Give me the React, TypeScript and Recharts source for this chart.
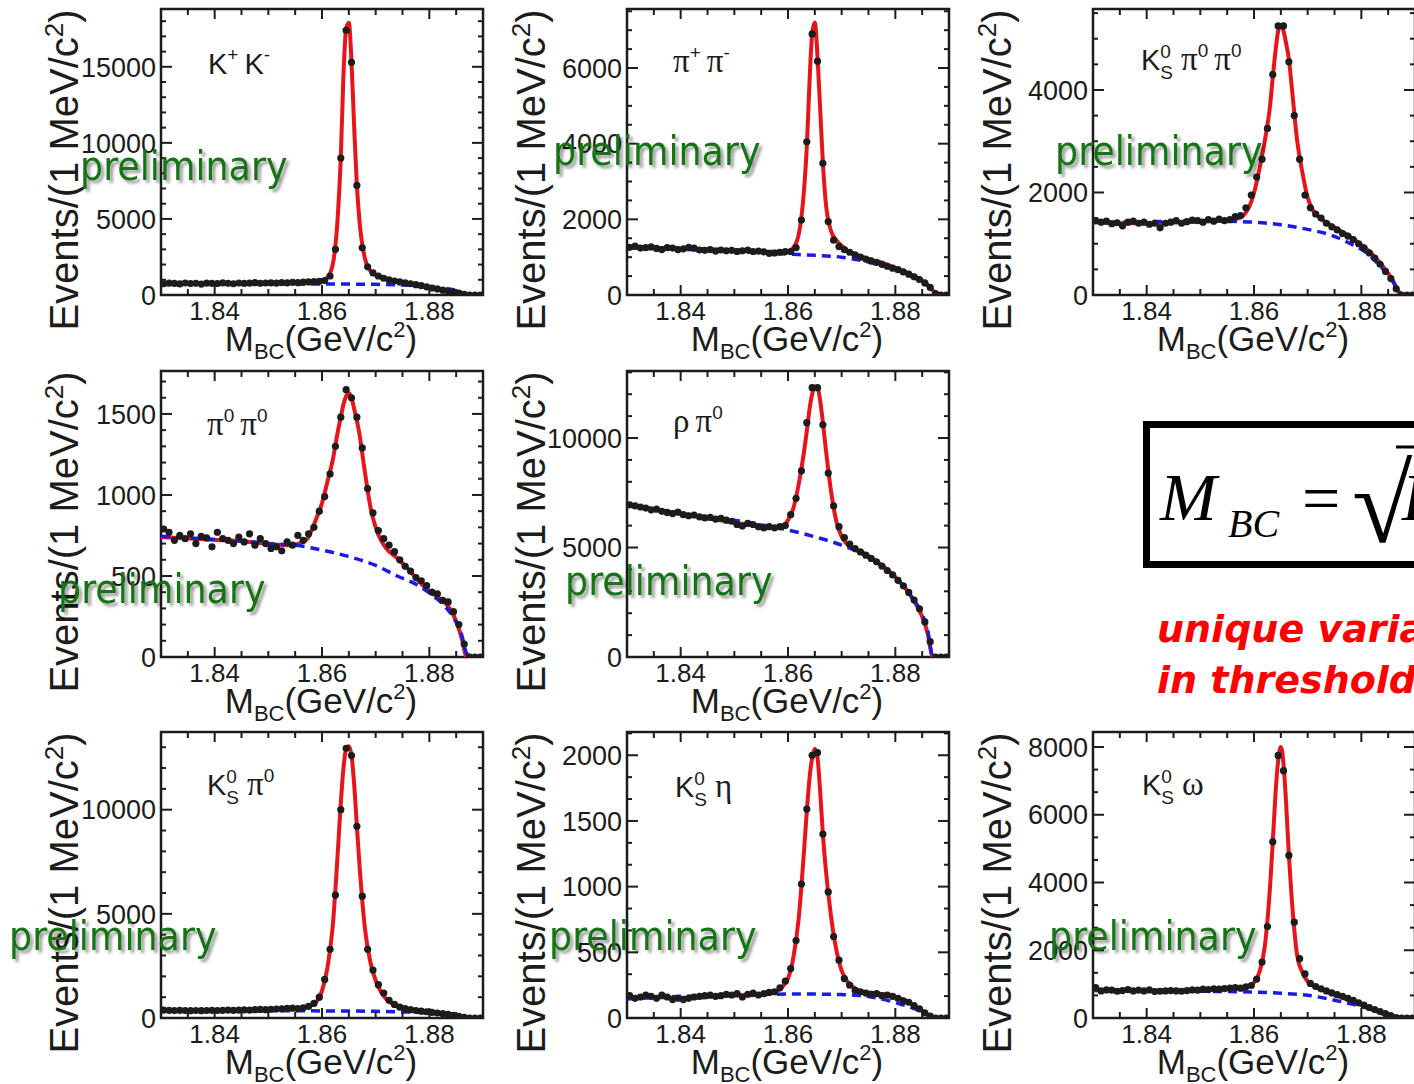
import { ComposedChart, Line, Scatter, XAxis, YAxis, ReferenceArea } from 'recharts'

const SANS = "'Liberation Sans', Arial, Helvetica, sans-serif"
const SERIF = "'Liberation Serif', 'Times New Roman', serif"
const PRELIM_FONT = "'DejaVu Sans Condensed', 'DejaVu Sans', sans-serif"
const INK = '#1c1c1c'
const RED = '#e8141c'
const BLUE = '#1a1ae8'
const GREEN = '#137313'

// plot frame geometry (px)
const PLOT_W = 322
const PLOT_H = 286
const PAD_L = 161
const PAD_T = 9
const CHART_W = PAD_L + PLOT_W + 12
const CHART_H = PAD_T + PLOT_H + 40

// x axis: M_BC in GeV/c^2
const X_DOMAIN = [1.83, 1.89]
const X_TICKS = [1.83, 1.835, 1.84, 1.845, 1.85, 1.855, 1.86, 1.865, 1.87, 1.875, 1.88, 1.885, 1.89]
const X_LABELS = [1.84, 1.86, 1.88]

// 1 MeV bin centres of the data points
const MASS = [
  1.8305, 1.8315, 1.8325, 1.8335, 1.8345, 1.8355, 1.8365, 1.8375, 1.8385, 1.8395,
  1.8405, 1.8415, 1.8425, 1.8435, 1.8445, 1.8455, 1.8465, 1.8475, 1.8485, 1.8495,
  1.8505, 1.8515, 1.8525, 1.8535, 1.8545, 1.8555, 1.8565, 1.8575, 1.8585, 1.8595,
  1.8605, 1.8615, 1.8625, 1.8635, 1.8645, 1.8655, 1.8665, 1.8675, 1.8685, 1.8695,
  1.8705, 1.8715, 1.8725, 1.8735, 1.8745, 1.8755, 1.8765, 1.8775, 1.8785, 1.8795,
  1.8805, 1.8815, 1.8825, 1.8835, 1.8845, 1.8855, 1.8865, 1.8875, 1.8885, 1.8895,
]

// sample positions of the total fit (red) and background (blue dashed)
const FIT_X = [
  1.83, 1.833, 1.836, 1.839, 1.842, 1.845, 1.848, 1.851, 1.854, 1.857,
  1.859, 1.86, 1.861, 1.862, 1.863, 1.8635, 1.864, 1.8645, 1.865, 1.8655,
  1.866, 1.8665, 1.867, 1.868, 1.869, 1.87, 1.871, 1.872, 1.874, 1.876,
  1.878, 1.88, 1.882, 1.884, 1.885, 1.886, 1.887, 1.888, 1.89,
]
const BKG_X = [1.83, 1.835, 1.84, 1.845, 1.85, 1.855, 1.86, 1.865, 1.87, 1.874, 1.878, 1.881, 1.883, 1.885, 1.886, 1.887, 1.888, 1.89]

// K+ K-
const PTS_KK = [
  740, 780, 760, 730, 790, 750, 770, 720, 780, 760, 750, 800, 770, 740, 790, 760, 780, 810, 770, 790,
  800, 780, 820, 800, 830, 810, 840, 860, 880, 900, 950, 1250, 3000, 9000, 17400, 15300, 7200, 3100, 1850, 1450,
  1250, 1100, 1000, 920, 860, 800, 740, 680, 610, 540, 460, 390, 320, 250, 190, 120, 40, 0, 0, 0,
]
const FIT_KK = [
  760, 765, 770, 775, 780, 790, 800, 810, 830, 860, 900, 960, 1150, 2000, 5500, 9000, 14500, 17500, 17900, 15300,
  11000, 7200, 4800, 2400, 1600, 1300, 1150, 1050, 900, 790, 660, 520, 380, 230, 150, 60, 0, 0, 0,
]
const BKG_KK = [700, 705, 710, 715, 720, 720, 720, 715, 700, 670, 600, 510, 420, 300, 130, 0, 0, 0]

// pi+ pi-
const PTS_PIPI = [
  1260, 1290, 1240, 1250, 1270, 1230, 1200, 1250, 1240, 1200, 1220, 1260, 1240, 1190, 1180, 1200, 1160, 1190, 1170, 1180,
  1150, 1170, 1190, 1150, 1160, 1140, 1100, 1110, 1130, 1150, 1150, 1250, 1980, 4050, 6900, 6180, 3480, 1940, 1450, 1280,
  1200, 1130, 1060, 1000, 950, 900, 860, 810, 760, 710, 670, 610, 550, 480, 410, 320, 200, 40, 0, 0,
]
const FIT_PIPI = [
  1260, 1250, 1240, 1230, 1220, 1210, 1195, 1180, 1160, 1140, 1140, 1160, 1250, 1600, 2800, 3900, 5600, 6900, 7200, 6300,
  4900, 3500, 2500, 1700, 1450, 1300, 1180, 1110, 1000, 910, 830, 720, 600, 460, 380, 270, 120, 0, 0,
]
const BKG_PIPI = [1250, 1225, 1205, 1180, 1150, 1115, 1080, 1050, 1000, 900, 760, 620, 500, 340, 250, 110, 0, 0]

// KS pi0 pi0
const PTS_KSPP = [
  1450, 1420, 1440, 1390, 1410, 1350, 1420, 1440, 1400, 1420, 1380, 1400, 1310, 1400, 1420, 1450, 1400, 1430, 1460, 1450,
  1420, 1470, 1440, 1480, 1450, 1470, 1530, 1550, 1700, 1950, 2300, 2650, 3250, 4300, 5250, 5250, 4550, 3500, 2650, 1950,
  1700, 1580, 1500, 1400, 1330, 1270, 1200, 1150, 1080, 1000, 920, 820, 720, 600, 460, 320, 120, 0, 0, 0,
]
const FIT_KSPP = [
  1420, 1410, 1400, 1400, 1405, 1415, 1425, 1440, 1460, 1490, 1700, 1990, 2450, 3000, 3700, 4250, 4750, 5150, 5270, 5150,
  4900, 4600, 4100, 3050, 2400, 1900, 1650, 1530, 1380, 1260, 1130, 980, 800, 560, 420, 260, 60, 0, 0,
]
const BKG_KSPP = [1420, 1420, 1430, 1440, 1450, 1440, 1420, 1370, 1280, 1180, 1000, 820, 620, 380, 240, 50, 0, 0]

// pi0 pi0
const PTS_P0P0 = [
  790, 770, 720, 750, 730, 760, 700, 745, 735, 680, 770, 730, 720, 700, 740, 710, 760, 690, 730, 700,
  670, 680, 655, 710, 690, 750, 720, 760, 800, 900, 990, 1130, 1300, 1480, 1650, 1600, 1480, 1290, 1040, 890,
  780, 730, 690, 650, 600, 560, 530, 490, 470, 440, 400, 390, 350, 340, 280, 200, 80, 0, 0, 0,
]
const FIT_P0P0 = [
  740, 735, 730, 725, 720, 715, 705, 695, 690, 720, 860, 950, 1080, 1215, 1400, 1480, 1560, 1610, 1630, 1600,
  1530, 1460, 1370, 1140, 930, 800, 720, 670, 610, 545, 470, 405, 360, 290, 220, 120, 0, 0, 0,
]
const BKG_P0P0 = [745, 735, 725, 715, 700, 690, 660, 620, 565, 500, 440, 370, 310, 215, 140, 20, 0, 0]

// rho pi0
const PTS_RHOP = [
  6950, 6900, 6850, 6800, 6720, 6750, 6650, 6600, 6550, 6620, 6500, 6450, 6480, 6400, 6350, 6380, 6300, 6330, 6250, 6200,
  6050, 5980, 6100, 6050, 5950, 5900, 5950, 5900, 5950, 6000, 6500, 7250, 8500, 10700, 12300, 12300, 10600, 8400, 6900, 5950,
  5450, 5150, 4950, 4800, 4650, 4500, 4350, 4150, 3950, 3750, 3500, 3250, 2950, 2600, 2200, 1600, 700, 0, 0, 0,
]
const FIT_RHOP = [
  6950, 6830, 6700, 6580, 6460, 6340, 6220, 6100, 5990, 5930, 5980, 6250, 6800, 7900, 9400, 10300, 11300, 12000, 12350, 12300,
  11700, 10700, 9600, 7600, 6200, 5500, 5150, 4950, 4750, 4450, 4100, 3650, 3100, 2350, 1850, 1100, 0, 0, 0,
]
const BKG_RHOP = [6940, 6750, 6560, 6400, 6250, 6030, 5800, 5490, 5110, 4700, 4050, 3380, 2750, 1950, 1250, 0, 0, 0]

// KS pi0
const PTS_KSP = [
  380, 370, 360, 370, 360, 350, 360, 350, 360, 370, 360, 370, 380, 370, 380, 390, 380, 400, 410, 400,
  420, 430, 440, 460, 470, 450, 490, 560, 700, 1000, 1850, 3300, 5900, 10000, 12950, 12600, 9200, 5850, 3300, 2300,
  1600, 1200, 850, 650, 520, 450, 400, 360, 330, 300, 270, 240, 210, 170, 130, 80, 30, 0, 0, 0,
]
const FIT_KSP = [
  370, 365, 365, 370, 375, 385, 395, 410, 430, 510, 800, 1300, 2400, 4400, 8200, 10300, 12000, 12900, 13050, 12600,
  11200, 9200, 7300, 4300, 2700, 1800, 1250, 900, 560, 430, 360, 300, 240, 160, 110, 50, 0, 0, 0,
]
const BKG_KSP = [350, 350, 350, 350, 345, 345, 340, 335, 320, 300, 270, 230, 190, 120, 60, 0, 0, 0]

// KS eta
const PTS_KSETA = [
  170, 150, 160, 175, 165, 150, 175, 160, 140, 150, 140, 150, 160, 165, 170, 175, 165, 170, 180, 175,
  185, 160, 180, 190, 175, 185, 195, 200, 230, 280, 376, 590, 1020, 1590, 2000, 2020, 1400, 960, 620, 440,
  300, 250, 210, 200, 190, 180, 185, 170, 175, 165, 150, 130, 120, 95, 70, 40, 15, 0, 0, 0,
]
const FIT_KSETA = [
  160, 160, 158, 155, 155, 160, 168, 172, 175, 190, 240, 300, 460, 760, 1280, 1570, 1820, 1980, 2050, 1980,
  1720, 1400, 1150, 780, 520, 360, 280, 240, 200, 190, 180, 160, 130, 80, 55, 25, 0, 0, 0,
]
const BKG_KSETA = [145, 155, 165, 170, 175, 180, 182, 182, 178, 168, 140, 105, 80, 45, 25, 0, 0, 0]

// KS omega
const PTS_KSOM = [
  900, 800, 830, 820, 790, 810, 840, 800, 820, 800, 830, 780, 790, 800, 810, 800, 790, 810, 830, 820,
  850, 840, 860, 850, 870, 880, 900, 880, 920, 960, 1150, 1650, 2700, 5200, 7750, 7300, 4800, 2830, 1750, 1300,
  1020, 930, 860, 800, 740, 690, 640, 580, 520, 450, 380, 310, 250, 190, 130, 70, 10, 0, 0, 0,
]
const FIT_KSOM = [
  830, 820, 815, 815, 815, 820, 830, 845, 860, 890, 950, 1050, 1350, 2100, 3900, 5200, 6600, 7600, 8000, 7500,
  6300, 4800, 3600, 1900, 1350, 1080, 950, 870, 750, 630, 510, 380, 250, 120, 60, 15, 0, 0, 0,
]
const BKG_KSOM = [815, 805, 800, 795, 790, 780, 765, 730, 670, 560, 420, 300, 200, 90, 30, 0, 0, 0]

// labelled y ticks of each panel
const Y_KK = [0, 5000, 10000, 15000]
const Y_PIPI = [0, 2000, 4000, 6000]
const Y_KSPP = [0, 2000, 4000]
const Y_P0P0 = [0, 500, 1000, 1500]
const Y_RHOP = [0, 5000, 10000]
const Y_KSP = [0, 5000, 10000]
const Y_KSETA = [0, 500, 1000, 1500, 2000]
const Y_KSOM = [0, 2000, 4000, 6000, 8000]

const PANELS = [
  { key: 'kk', left: 161, top: 9, col: 0, yMax: 18800, majors: Y_KK, sub: 5, points: PTS_KK, fit: FIT_KK, bkg: BKG_KK, prelim: [80, 180] },
  { key: 'pipi', left: 627, top: 9, col: 1, yMax: 7560, majors: Y_PIPI, sub: 4, points: PTS_PIPI, fit: FIT_PIPI, bkg: BKG_PIPI, prelim: [553, 165] },
  { key: 'kspp', left: 1093, top: 9, col: 2, yMax: 5580, majors: Y_KSPP, sub: 4, points: PTS_KSPP, fit: FIT_KSPP, bkg: BKG_KSPP, prelim: [1055, 165] },
  { key: 'p0p0', left: 161, top: 371, col: 0, yMax: 1765, majors: Y_P0P0, sub: 5, points: PTS_P0P0, fit: FIT_P0P0, bkg: BKG_P0P0, prelim: [58, 603] },
  { key: 'rhop', left: 627, top: 371, col: 1, yMax: 13060, majors: Y_RHOP, sub: 5, points: PTS_RHOP, fit: FIT_RHOP, bkg: BKG_RHOP, prelim: [565, 595] },
  { key: 'ksp', left: 161, top: 732, col: 0, yMax: 13730, majors: Y_KSP, sub: 5, points: PTS_KSP, fit: FIT_KSP, bkg: BKG_KSP, prelim: [9, 950] },
  { key: 'kseta', left: 627, top: 732, col: 1, yMax: 2177, majors: Y_KSETA, sub: 3, points: PTS_KSETA, fit: FIT_KSETA, bkg: BKG_KSETA, prelim: [549, 950] },
  { key: 'ksom', left: 1093, top: 732, col: 2, yMax: 8443, majors: Y_KSOM, sub: 3, points: PTS_KSOM, fit: FIT_KSOM, bkg: BKG_KSOM, prelim: [1049, 950] },
]

const TITLE_X = [78, 545, 1011]

const pairs = (xs: number[], ys: number[]) => xs.map((x, i) => ({ x, y: ys[i] }))

function yTicks(yMax: number, majors: number[], sub: number) {
  const step = (majors[1] - majors[0]) / sub
  const out: number[] = []
  for (let k = 0; k * step <= yMax; k++) out.push(k * step)
  return out
}

const dot = (props: any) =>
  props.cx == null ? <g /> : <circle cx={props.cx} cy={props.cy} r={3.6} fill={INK} />

function xTick(props: any) {
  const { x, y, payload } = props
  const v = payload.value
  const major = X_LABELS.some((l) => Math.abs(l - v) < 1e-6)
  const len = major ? 10 : 6
  return (
    <g>
      <line x1={x} x2={x} y1={y} y2={y - len} stroke={INK} strokeWidth={2} />
      <line x1={x} x2={x} y1={y - PLOT_H} y2={y - PLOT_H + len} stroke={INK} strokeWidth={2} />
      {major && (
        <text x={x} y={y + 25} textAnchor="middle" fontFamily={SANS} fontSize={26} fill={INK}>
          {v.toFixed(2)}
        </text>
      )}
    </g>
  )
}

function Panel({ p }: { p: any }) {
  const ticks = yTicks(p.yMax, p.majors, p.sub)
  const isMajor = (v: number) => p.majors.some((m: number) => Math.abs(m - v) < 1e-3)

  const yTick = (props: any) => {
    const { x, y, payload } = props
    const v = payload.value
    const major = isMajor(v)
    const len = major ? 11 : 5
    return (
      <g>
        <line x1={x} x2={x + len} y1={y} y2={y} stroke={INK} strokeWidth={2} />
        <line x1={x + PLOT_W} x2={x + PLOT_W - len} y1={y} y2={y} stroke={INK} strokeWidth={2} />
        {major && (
          <text x={x - 5} y={y} dy="0.36em" textAnchor="end" fontFamily={SANS} fontSize={27} fill={INK}>
            {Math.round(v)}
          </text>
        )}
      </g>
    )
  }

  return (
    <div style={{ position: 'absolute', left: p.left - PAD_L, top: p.top - PAD_T }}>
      <ComposedChart width={CHART_W} height={CHART_H} margin={{ top: PAD_T, right: 12, bottom: 0, left: 0 }}>
        <XAxis
          xAxisId="b"
          type="number"
          dataKey="x"
          domain={X_DOMAIN}
          ticks={X_TICKS}
          interval={0}
          allowDataOverflow
          height={40}
          axisLine={false}
          tickLine={false}
          tickSize={0}
          tickMargin={0}
          tick={xTick}
        />
        <YAxis
          yAxisId="l"
          type="number"
          dataKey="y"
          domain={[0, p.yMax]}
          ticks={ticks}
          interval={0}
          allowDataOverflow
          width={PAD_L}
          axisLine={false}
          tickLine={false}
          tickSize={0}
          tickMargin={0}
          tick={yTick}
        />
        <ReferenceArea
          xAxisId="b"
          yAxisId="l"
          x1={1.83}
          x2={1.89}
          y1={0}
          y2={p.yMax}
          fill="none"
          stroke={INK}
          strokeWidth={2.5}
          ifOverflow="visible"
        />
        <Scatter xAxisId="b" yAxisId="l" data={pairs(MASS, p.points)} dataKey="y" shape={dot} isAnimationActive={false} />
        <Line
          xAxisId="b"
          yAxisId="l"
          data={pairs(FIT_X, p.fit)}
          dataKey="y"
          type="monotone"
          stroke={RED}
          strokeWidth={4}
          dot={false}
          activeDot={false}
          isAnimationActive={false}
        />
        <Line
          xAxisId="b"
          yAxisId="l"
          data={pairs(BKG_X, p.bkg)}
          dataKey="y"
          type="monotone"
          stroke={BLUE}
          strokeWidth={3.5}
          strokeDasharray="9 6"
          dot={false}
          activeDot={false}
          isAnimationActive={false}
        />
      </ComposedChart>
    </div>
  )
}

// decay-channel label in the upper left of each frame
function ChannelLabel({ k, x, y }: { k: string; x: number; y: number }) {
  const base = { fontFamily: SANS, fontSize: 29, fill: INK }
  const greek = { fontFamily: SERIF, fontSize: 33 }
  const KS = (
    <>
      K<tspan fontSize={19} dy={-12}>0</tspan>
      <tspan fontSize={19} dx={-10.6} dy={21}>S</tspan>
    </>
  )
  switch (k) {
    case 'kk':
      return (
        <text x={x} y={y} {...base}>
          K<tspan fontSize={19} dy={-13}>+</tspan>
          <tspan dy={13} dx={6}>K</tspan>
          <tspan fontSize={19} dy={-13}>-</tspan>
        </text>
      )
    case 'pipi':
      return (
        <text x={x} y={y} {...base}>
          <tspan {...greek}>π</tspan>
          <tspan fontSize={19} dy={-13}>+</tspan>
          <tspan {...greek} dy={13} dx={6}>π</tspan>
          <tspan fontSize={19} dy={-13}>-</tspan>
        </text>
      )
    case 'kspp':
      return (
        <text x={x} y={y} {...base}>
          {KS}
          <tspan {...greek} dy={-9} dx={8}>π</tspan>
          <tspan fontSize={19} dy={-13}>0</tspan>
          <tspan {...greek} dy={13} dx={6}>π</tspan>
          <tspan fontSize={19} dy={-13}>0</tspan>
        </text>
      )
    case 'p0p0':
      return (
        <text x={x} y={y} {...base}>
          <tspan {...greek}>π</tspan>
          <tspan fontSize={19} dy={-13}>0</tspan>
          <tspan {...greek} dy={13} dx={6}>π</tspan>
          <tspan fontSize={19} dy={-13}>0</tspan>
        </text>
      )
    case 'rhop':
      return (
        <text x={x} y={y} {...base}>
          <tspan {...greek}>ρ</tspan>
          <tspan {...greek} dx={6}>π</tspan>
          <tspan fontSize={19} dy={-13}>0</tspan>
        </text>
      )
    case 'ksp':
      return (
        <text x={x} y={y} {...base}>
          {KS}
          <tspan {...greek} dy={-9} dx={8}>π</tspan>
          <tspan fontSize={19} dy={-13}>0</tspan>
        </text>
      )
    case 'kseta':
      return (
        <text x={x} y={y} {...base}>
          {KS}
          <tspan {...greek} dy={-9} dx={8}>η</tspan>
        </text>
      )
    default:
      return (
        <text x={x} y={y} {...base}>
          {KS}
          <tspan {...greek} dy={-9} dx={8}>ω</tspan>
        </text>
      )
  }
}

const LABEL_POS: Record<string, [number, number]> = {
  kk: [208, 74],
  pipi: [673, 72],
  kspp: [1141, 70],
  p0p0: [207, 435],
  rhop: [673, 432],
  ksp: [207, 795],
  kseta: [675, 797],
  ksom: [1142, 795],
}

function Overlay() {
  return (
    <svg width={1414} height={1084} style={{ position: 'absolute', left: 0, top: 0, pointerEvents: 'none' }}>
      <defs>
        <filter id="prelimShadow" x="-10%" y="-30%" width="130%" height="170%">
          <feDropShadow dx={3} dy={3} stdDeviation={1.6} floodColor="#000" floodOpacity={0.4} />
        </filter>
      </defs>
      {PANELS.map((p) => {
        const [lx, ly] = LABEL_POS[p.key]
        return (
          <g key={p.key}>
            <text
              transform={`translate(${TITLE_X[p.col]},${p.top + 161}) rotate(-90)`}
              textAnchor="middle"
              fontFamily={SANS}
              fontSize={40}
              fill={INK}
            >
              Events/(1 MeV/c<tspan fontSize={26} dy={-15}>2</tspan>
              <tspan dy={15}>)</tspan>
            </text>
            <text x={p.left + 160} y={p.top + 342} textAnchor="middle" fontFamily={SANS} fontSize={35} fill={INK}>
              M<tspan fontSize={22} dy={8}>BC</tspan>
              <tspan dy={-8}>(GeV/c</tspan>
              <tspan fontSize={22} dy={-14}>2</tspan>
              <tspan dy={14}>)</tspan>
            </text>
            <ChannelLabel k={p.key} x={lx} y={ly} />
          </g>
        )
      })}
      {PANELS.map((p) => (
        <text
          key={'pre-' + p.key}
          x={p.prelim[0]}
          y={p.prelim[1]}
          fontFamily={PRELIM_FONT}
          fontSize={40.5}
          fill={GREEN}
          filter="url(#prelimShadow)"
        >
          preliminary
        </text>
      ))}

      <rect x={1146.5} y={424.5} width={300} height={140} fill="none" stroke="#000" strokeWidth={7} />
      <text x={1160} y={520} fontFamily={SERIF} fontStyle="italic" fontSize={68} fill="#000">M</text>
      <text x={1228} y={537} fontFamily={SERIF} fontStyle="italic" fontSize={40} fill="#000">BC</text>
      <text x={1302} y={521} fontFamily={SERIF} fontSize={68} fill="#000">=</text>
      <text x={1352} y={542} fontFamily={SERIF} fontSize={110} fill="#000">√</text>
      <line x1={1396} x2={1414} y1={447} y2={447} stroke="#000" strokeWidth={3} />
      <text x={1402} y={520} fontFamily={SERIF} fontStyle="italic" fontSize={68} fill="#000">E</text>

      <text x={1157} y={642} fontFamily="'DejaVu Sans', Verdana, sans-serif" fontWeight="bold" fontStyle="italic" fontSize={38} fill="#ff0000">
        unique variable
      </text>
      <text x={1157} y={693} fontFamily="'DejaVu Sans', Verdana, sans-serif" fontWeight="bold" fontStyle="italic" fontSize={38} fill="#ff0000">
        in threshold
      </text>
    </svg>
  )
}

export default function App() {
  return (
    <div
      style={{
        position: 'absolute',
        left: 0,
        top: 0,
        width: 1414,
        height: 1084,
        overflow: 'hidden',
        background: '#ffffff',
      }}
    >
      {PANELS.map((p) => (
        <Panel key={p.key} p={p} />
      ))}
      <Overlay />
    </div>
  )
}
